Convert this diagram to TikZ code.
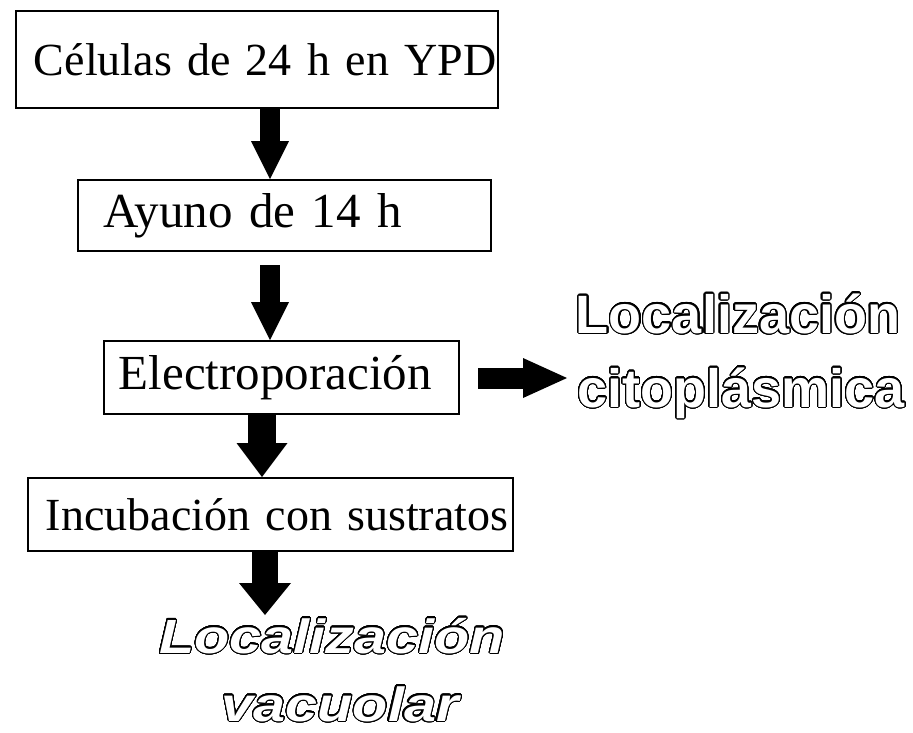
\documentclass[tikz,border=0pt]{standalone}
\usepackage{fontspec}
\setmainfont{Liberation Serif}
\newfontfamily\outfont{Liberation Sans}
\newfontfamily\outfontst{Liberation Sans}[FakeStretch=1.2]
\usepackage[copies]{contour}
\contourlength{1.1pt}
\contournumber{40}
\usetikzlibrary{arrows.meta}
\newcommand{\outlined}[1]{\contour{black}{#1}}
\newcommand{\tightfont}{\fontsize{46}{50}\selectfont\spaceskip=6.5pt\relax}
\tikzset{
  stepbox/.style={draw, line width=1.8pt, anchor=north west, align=left,
    font=\fontsize{49}{54}\selectfont, inner ysep=0pt, inner xsep=#1},
  tightbox/.style={font=\tightfont},
  flowarrow/.style n args={3}{line width=#1, -{Triangle[width=#2,length=#3,line width=0pt]}},
  outtext/.style={anchor=base, inner sep=0pt, text=white, font=\fontsize{54}{60}\selectfont\outfont\bfseries},
  outtextit/.style={anchor=base, inner sep=0pt, text=white, font=\fontsize{48}{54}\selectfont\outfontst\bfseries\itshape}
}
\begin{document}
\begin{tikzpicture}[x=1pt,y=-1pt]
\useasboundingbox[fill=white] (0,0) rectangle (913,732);
\node[stepbox=18pt, tightbox, text width=446pt, minimum height=97pt] (b1) at (15,10) {\mbox{Células de 24 h en YPD}};
\node[stepbox=26pt, text width=361pt, minimum height=71pt] (b2) at (77,179) {\mbox{Ayuno de 14 h}};
\node[stepbox=15pt, text width=325pt, minimum height=73pt] (b3) at (103,340) {\mbox{Electroporación}};
\node[stepbox=18pt, tightbox, text width=449pt, minimum height=73pt] (b4) at (27,477) {\mbox{Incubación con sustratos}};
\node[outtext] (c1) at (738,333) {\outlined{Localización}};
\node[outtext] (c2) at (741,407) {\outlined{citoplásmica}};
\node[outtextit] (v1) at (332,653) {\outlined{Localización}};
\node[outtextit] (v2) at (340,721) {\outlined{vacuolar}};
\coordinate (r0) at (478,378);
\coordinate (r1) at (567,378);
\coordinate (d4) at (265,615);
\draw[flowarrow={20pt}{38pt}{38pt}] (270,0 |- b1.south) -- (270,0 |- b2.north);
\draw[flowarrow={20pt}{38pt}{38pt}] (270,265) -- (270,0 |- b3.north);
\draw[flowarrow={28pt}{51pt}{34pt}] (262,0 |- b3.south) -- (262,0 |- b4.north);
\draw[flowarrow={26pt}{52pt}{32pt}] (265,0 |- b4.south) -- (d4);
\draw[flowarrow={21pt}{40pt}{44pt}] (r0) -- (r1);
\end{tikzpicture}
\end{document}
